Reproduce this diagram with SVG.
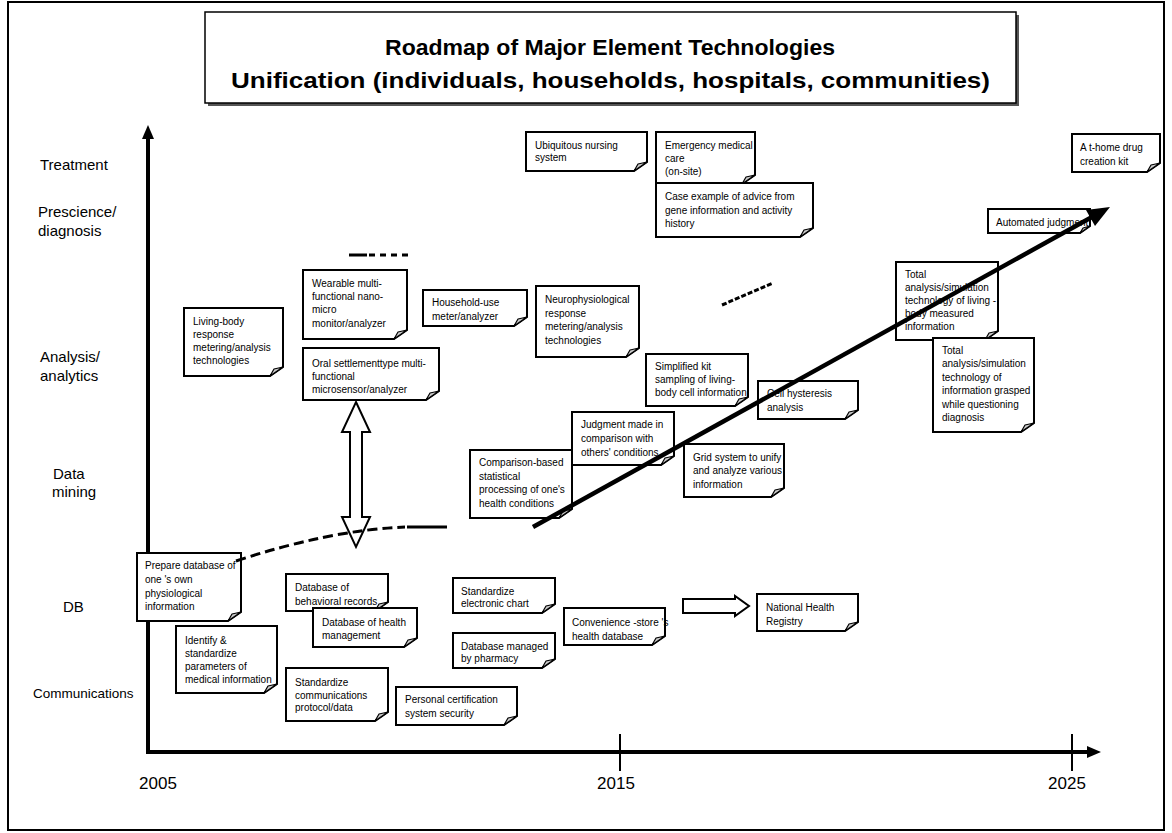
<svg xmlns="http://www.w3.org/2000/svg" width="1172" height="833" viewBox="0 0 1172 833">
  <style>
    .frame { fill: #fff; stroke: #000; stroke-width: 2; }
    .axis { stroke: #000; stroke-width: 4; fill: none; }
    .tick { stroke: #000; stroke-width: 2; }
    .head { fill: #000; }
    .box { fill: #fff; stroke: #000; stroke-width: 2; stroke-linejoin: miter; }
    .fold { fill: #c8c8c8; stroke: #000; stroke-width: 1.2; stroke-linejoin: round; }
    .t { font-family: "Liberation Sans", Arial, sans-serif; font-size: 10px; fill: #000; }
    .lbl { font-family: "Liberation Sans", Arial, sans-serif; font-size: 15px; fill: #000; }
    .yr { font-family: "Liberation Sans", Arial, sans-serif; font-size: 17px; fill: #000; text-anchor: middle; }
    .title { font-family: "Liberation Sans", Arial, sans-serif; font-size: 22px; font-weight: bold; fill: #000; }
    .block { fill: #fff; stroke: #000; stroke-width: 2; stroke-linejoin: miter; }
    .dash { fill: none; stroke: #000; stroke-width: 3; }
    .trend { stroke: #000; stroke-width: 4.5; fill: none; }
  </style>

  <!-- page frame -->
  <rect class="frame" x="8" y="2" width="1156" height="828"/>

  <!-- title -->
  <g id="title">
    <rect x="208" y="15" width="811" height="91" fill="#555"/>
    <rect x="205" y="12" width="811" height="91" fill="#fff" stroke="#000" stroke-width="1.5"/>
    <text class="title" x="385" y="55" textLength="450" lengthAdjust="spacingAndGlyphs">Roadmap of Major Element Technologies</text>
    <text class="title" x="231" y="88" textLength="759" lengthAdjust="spacingAndGlyphs">Unification (individuals, households, hospitals, communities)</text>
  </g>

  <!-- axes -->
  <g id="axes">
    <line class="axis" x1="148" y1="754" x2="148" y2="137"/>
    <polygon class="head" points="148,125 142,139 154,139"/>
    <line class="axis" x1="146" y1="752" x2="1089" y2="752"/>
    <polygon class="head" points="1101,752 1087,746 1087,758"/>
    <line class="tick" x1="620" y1="734" x2="620" y2="771"/>
    <line class="tick" x1="1072" y1="734" x2="1072" y2="771"/>
    <text class="yr" x="158" y="789">2005</text>
    <text class="yr" x="616" y="789">2015</text>
    <text class="yr" x="1067" y="789">2025</text>
  </g>

  <!-- level labels -->
  <g id="levels">
    <text class="lbl" x="40" y="170">Treatment</text>
    <text class="lbl" x="38" y="217">Prescience/</text>
    <text class="lbl" x="38" y="236">diagnosis</text>
    <text class="lbl" x="40" y="362">Analysis/</text>
    <text class="lbl" x="40" y="381">analytics</text>
    <text class="lbl" x="53" y="479">Data</text>
    <text class="lbl" x="52" y="497">mining</text>
    <text class="lbl" x="63" y="612">DB</text>
    <text class="lbl" x="33" y="698" style="font-size:13.5px">Communications</text>
  </g>

  <!-- notes: rectangle with folded bottom-right corner -->
  <g id="n-living">
    <path class="box" d="M184,308 H283 V367 L270,376 H184 Z"/>
    <polygon class="fold" points="270,376 274,369 283,367"/>
    <text class="t"><tspan x="193" y="325">Living-body</tspan><tspan x="193" y="338">response</tspan><tspan x="193" y="351">metering/analysis</tspan><tspan x="193" y="364">technologies</tspan></text>
  </g>
  <g id="n-wearable">
    <path class="box" d="M303,270 H407 V330 L394,339 H303 Z"/>
    <polygon class="fold" points="394,339 398,332 407,330"/>
    <text class="t"><tspan x="312" y="287">Wearable multi-</tspan><tspan x="312" y="300">functional  nano-</tspan><tspan x="312" y="313">micro</tspan><tspan x="312" y="327">monitor/analyzer</tspan></text>
  </g>
  <g id="n-oral">
    <path class="box" d="M303,348 H439 V391 L426,400 H303 Z"/>
    <polygon class="fold" points="426,400 430,393 439,391"/>
    <text class="t"><tspan x="312" y="367">Oral settlementtype  multi-</tspan><tspan x="312" y="380">functional</tspan><tspan x="312" y="393">microsensor/analyzer</tspan></text>
  </g>
  <g id="n-household">
    <path class="box" d="M423,290 H527 V317 L514,326 H423 Z"/>
    <polygon class="fold" points="514,326 518,319 527,317"/>
    <text class="t"><tspan x="432" y="306">Household-use</tspan><tspan x="432" y="320">meter/analyzer</tspan></text>
  </g>
  <g id="n-neuro">
    <path class="box" d="M536,286 H639 V348 L626,357 H536 Z"/>
    <polygon class="fold" points="626,357 630,350 639,348"/>
    <text class="t"><tspan x="545" y="303">Neurophysiological</tspan><tspan x="545" y="316.5">response</tspan><tspan x="545" y="330">metering/analysis</tspan><tspan x="545" y="343.5">technologies</tspan></text>
  </g>
  <g id="n-ubiquitous">
    <path class="box" d="M526,132 H647 V162 L634,171 H526 Z"/>
    <polygon class="fold" points="634,171 638,164 647,162"/>
    <text class="t"><tspan x="535" y="148.5">Ubiquitous  nursing</tspan><tspan x="535" y="160.5">system</tspan></text>
  </g>
  <g id="n-emergency">
    <path class="box" d="M656,132 H755 V175 L742,184 H656 Z"/>
    <polygon class="fold" points="742,184 746,177 755,175"/>
    <text class="t"><tspan x="665" y="148.5">Emergency medical</tspan><tspan x="665" y="161.5">care</tspan><tspan x="665" y="175">(on-site)</tspan></text>
  </g>
  <g id="n-case">
    <path class="box" d="M656,183 H813 V228 L800,237 H656 Z"/>
    <polygon class="fold" points="800,237 804,230 813,228"/>
    <text class="t"><tspan x="665" y="200">Case example of advice from</tspan><tspan x="665" y="213.5">gene information and activity</tspan><tspan x="665" y="227">history</tspan></text>
  </g>
  <g id="n-athome">
    <path class="box" d="M1072,134 H1160 V163 L1147,172 H1072 Z"/>
    <polygon class="fold" points="1147,172 1151,165 1160,163"/>
    <text class="t"><tspan x="1080" y="151">A t-home  drug</tspan><tspan x="1080" y="165">creation kit</tspan></text>
  </g>
  <g id="n-automated">
    <path class="box" d="M988,209 H1090 V226 L1080,233 H988 Z"/>
    <polygon class="fold" points="1080,233 1083,228 1090,226"/>
    <text class="t" x="996" y="226">Automated judgment</text>
  </g>
  <g id="n-total-living">
    <path class="box" d="M896,262 H998 V331 L985,340 H896 Z"/>
    <polygon class="fold" points="985,340 989,333 998,331"/>
    <text class="t"><tspan x="905" y="278">Total</tspan><tspan x="905" y="291">analysis/simulation</tspan><tspan x="905" y="304">technology of living -</tspan><tspan x="905" y="317">body measured</tspan><tspan x="905" y="330">information</tspan></text>
  </g>
  <g id="n-total-questioning">
    <path class="box" d="M933,338 H1034 V423 L1021,432 H933 Z"/>
    <polygon class="fold" points="1021,432 1025,425 1034,423"/>
    <text class="t"><tspan x="942" y="353.5">Total</tspan><tspan x="942" y="367">analysis/simulation</tspan><tspan x="942" y="380.5">technology of</tspan><tspan x="942" y="394">information  grasped</tspan><tspan x="942" y="407.5">while questioning</tspan><tspan x="942" y="421">diagnosis</tspan></text>
  </g>
  <g id="n-kit">
    <path class="box" d="M646,354 H748 V397 L735,406 H646 Z"/>
    <polygon class="fold" points="735,406 739,399 748,397"/>
    <text class="t"><tspan x="655" y="370">Simplified kit</tspan><tspan x="655" y="383">sampling of living-</tspan><tspan x="655" y="396">body cell information</tspan></text>
  </g>
  <g id="n-cell">
    <path class="box" d="M758,381 H858 V410 L845,419 H758 Z"/>
    <polygon class="fold" points="845,419 849,412 858,410"/>
    <text class="t"><tspan x="767" y="396.5">Cell hysteresis</tspan><tspan x="767" y="410.5">analysis</tspan></text>
  </g>
  <g id="n-comparison">
    <path class="box" d="M470,450 H572 V509 L559,518 H470 Z"/>
    <polygon class="fold" points="559,518 563,511 572,509"/>
    <text class="t"><tspan x="479" y="466">Comparison-based</tspan><tspan x="479" y="479.5">statistical</tspan><tspan x="479" y="493">processing of one's</tspan><tspan x="479" y="506.5">health conditions</tspan></text>
  </g>
  <g id="n-judgment">
    <path class="box" d="M572,412 H674 V456 L661,465 H572 Z"/>
    <polygon class="fold" points="661,465 665,458 674,456"/>
    <text class="t"><tspan x="581" y="428">Judgment made in</tspan><tspan x="581" y="442">comparison  with</tspan><tspan x="581" y="456">others' conditions</tspan></text>
  </g>
  <g id="n-grid">
    <path class="box" d="M684,444 H784 V488 L771,497 H684 Z"/>
    <polygon class="fold" points="771,497 775,490 784,488"/>
    <text class="t"><tspan x="693" y="460.5">Grid system to unify</tspan><tspan x="693" y="474">and analyze various</tspan><tspan x="693" y="487.5">information</tspan></text>
  </g>
  <g id="n-prepare">
    <path class="box" d="M137,553 H241 V612 L228,621 H137 Z"/>
    <polygon class="fold" points="228,621 232,614 241,612"/>
    <text class="t"><tspan x="145" y="569">Prepare database of</tspan><tspan x="145" y="583">one 's own</tspan><tspan x="145" y="597">physiological</tspan><tspan x="145" y="610">information</tspan></text>
  </g>
  <g id="n-identify">
    <path class="box" d="M176,626 H277 V684 L264,693 H176 Z"/>
    <polygon class="fold" points="264,693 268,686 277,684"/>
    <text class="t"><tspan x="185" y="643.5">Identify &amp;</tspan><tspan x="185" y="656.5">standardize</tspan><tspan x="185" y="669.5">parameters of</tspan><tspan x="185" y="682.5">medical  information</tspan></text>
  </g>
  <g id="n-behavioral">
    <path class="box" d="M286,574 H388 V602 L375,611 H286 Z"/>
    <polygon class="fold" points="375,611 379,604 388,602"/>
    <text class="t"><tspan x="295" y="591">Database of</tspan><tspan x="295" y="604.5">behavioral  records</tspan></text>
  </g>
  <g id="n-health">
    <path class="box" d="M313,608 H417 V638 L404,647 H313 Z"/>
    <polygon class="fold" points="404,647 408,640 417,638"/>
    <text class="t"><tspan x="322" y="625.5">Database of health</tspan><tspan x="322" y="638.5">management</tspan></text>
  </g>
  <g id="n-protocol">
    <path class="box" d="M286,668 H388 V712 L375,721 H286 Z"/>
    <polygon class="fold" points="375,721 379,714 388,712"/>
    <text class="t"><tspan x="295" y="685.5">Standardize</tspan><tspan x="295" y="698.5">communications</tspan><tspan x="295" y="711">protocol/data</tspan></text>
  </g>
  <g id="n-certification">
    <path class="box" d="M396,687 H517 V716 L504,725 H396 Z"/>
    <polygon class="fold" points="504,725 508,718 517,716"/>
    <text class="t"><tspan x="405" y="702.5">Personal certification</tspan><tspan x="405" y="716.5">system security</tspan></text>
  </g>
  <g id="n-chart">
    <path class="box" d="M453,578 H555 V604 L542,613 H453 Z"/>
    <polygon class="fold" points="542,613 546,606 555,604"/>
    <text class="t"><tspan x="461" y="594.5">Standardize</tspan><tspan x="461" y="607">electronic chart</tspan></text>
  </g>
  <g id="n-pharmacy">
    <path class="box" d="M453,633 H555 V659 L542,668 H453 Z"/>
    <polygon class="fold" points="542,668 546,661 555,659"/>
    <text class="t"><tspan x="461" y="649.5">Database managed</tspan><tspan x="461" y="662">by pharmacy</tspan></text>
  </g>
  <g id="n-convenience">
    <path class="box" d="M564,608 H665 V636 L652,645 H564 Z"/>
    <polygon class="fold" points="652,645 656,638 665,636"/>
    <text class="t"><tspan x="572" y="625.5">Convenience -store 's</tspan><tspan x="572" y="639.5">health database</tspan></text>
  </g>
  <g id="n-registry">
    <path class="box" d="M757,594 H858 V622 L845,631 H757 Z"/>
    <polygon class="fold" points="845,631 849,624 858,622"/>
    <text class="t"><tspan x="766" y="610.5">National Health</tspan><tspan x="766" y="624.5">Registry</tspan></text>
  </g>

  <!-- connectors -->
  <g id="connectors">
    <!-- two-way block arrow between sensor and database rows -->
    <polygon class="block" points="356,402 370,432 362,432 362,517 370,517 356,547 342,517 350,517 350,432 342,432"/>
    <!-- block arrow into the national registry -->
    <polygon class="block" points="683,599 735,599 735,596 749,606 735,616 735,613 683,613"/>
    <!-- dashed progressions -->
    <line class="dash" x1="349" y1="255" x2="367" y2="255"/>
    <line class="dash" x1="369" y1="255" x2="409" y2="255" stroke-dasharray="6 5"/>
    <path class="dash" d="M236,561 Q330,530 405,527" stroke-dasharray="10 5"/>
    <line class="dash" x1="407" y1="527" x2="447" y2="527"/>
    <line class="dash" x1="722" y1="305" x2="773" y2="283" stroke-dasharray="5 2"/>
    <!-- overall trend arrow -->
    <line class="trend" x1="533" y1="527" x2="1092" y2="217"/>
    <polygon class="head" points="1110,207 1095,226 1086,210"/>
  </g>
</svg>
